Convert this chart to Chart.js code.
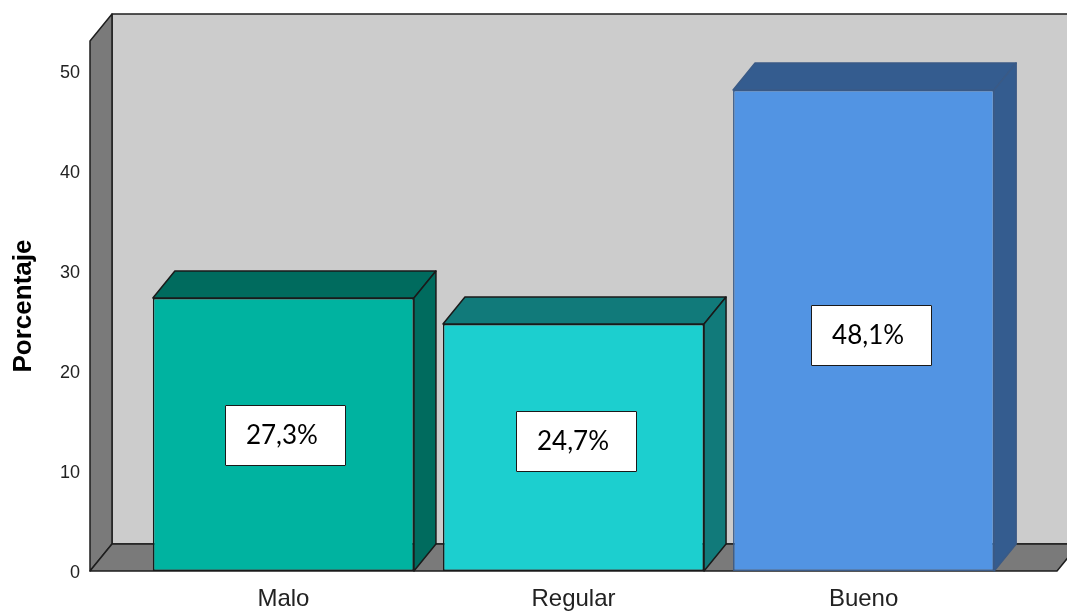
<!DOCTYPE html>
<html>
<head>
<meta charset="utf-8">
<script src="https://cdn.jsdelivr.net/npm/chart.js@4/dist/chart.umd.min.js"></script>
<style>
  html, body { margin: 0; padding: 0; background: #ffffff; }
  #wrap { width: 1067px; height: 612px; }
</style>
</head>
<body>
<div id="wrap"><canvas id="c" width="1067" height="612"></canvas></div>
<script>
// Categories and percentages
const categories = ['Malo', 'Regular', 'Bueno'];
const percentages = [27.3, 24.7, 48.1];
const yTicks = [0, 10, 20, 30, 40, 50];

// Bar styling: front face, shaded top/side faces, edge lines
const frontColors = ['#00b3a0', '#1ccfcf', '#5294e3'];
const shadeColors = ['#006b5e', '#117a7a', '#345c8f'];
const edgeColors  = ['#1a1a1a', '#1a1a1a', '#3a5a86'];
// Small pixel nudges for the value boxes [dx, dy]
const labelNudge = [[2, 1], [3, -6], [8, 5]];

// Depth of the 3D extrusion (px)
const DX = 22, DY = -27;

function fmtPct(v) {
  return v.toFixed(1).replace('.', ',') + '%';
}

const box3d = {
  id: 'box3d',
  beforeDatasetsDraw(chart) {
    const { ctx, chartArea: a, scales: { y } } = chart;
    const y0 = y.getPixelForValue(0);
    const yt = y.getPixelForValue(y.max);
    const lf = a.left;
    const rf = a.right;
    ctx.save();
    ctx.lineJoin = 'round';
    ctx.strokeStyle = '#1e1e1e';
    ctx.lineWidth = 1.5;
    // back wall
    ctx.fillStyle = '#cccccc';
    ctx.beginPath();
    ctx.rect(lf + DX, yt + DY, (rf - lf) + 10, y0 - yt);
    ctx.fill();
    ctx.stroke();
    // left side wall
    ctx.fillStyle = '#7a7a7a';
    ctx.beginPath();
    ctx.moveTo(lf, y0);
    ctx.lineTo(lf, yt);
    ctx.lineTo(lf + DX, yt + DY);
    ctx.lineTo(lf + DX, y0 + DY);
    ctx.closePath();
    ctx.fill();
    ctx.stroke();
    // floor
    ctx.beginPath();
    ctx.moveTo(lf, y0);
    ctx.lineTo(lf + DX, y0 + DY);
    ctx.lineTo(rf + DX, y0 + DY);
    ctx.lineTo(rf, y0);
    ctx.closePath();
    ctx.fill();
    ctx.stroke();
    ctx.restore();
  },
  afterDatasetsDraw(chart) {
    const { ctx } = chart;
    const meta = chart.getDatasetMeta(0);
    const ys = chart.scales.y;
    ctx.save();
    ctx.lineJoin = 'round';
    meta.data.forEach((bar, i) => {
      const { x, y, base, width } = bar.getProps(['x', 'y', 'base', 'width'], true);
      const l = x - width / 2, r = x + width / 2;
      ctx.fillStyle = shadeColors[i];
      ctx.strokeStyle = edgeColors[i];
      ctx.lineWidth = 1.5;
      // top face
      ctx.beginPath();
      ctx.moveTo(l, y);
      ctx.lineTo(l + DX, y + DY);
      ctx.lineTo(r + DX, y + DY);
      ctx.lineTo(r, y);
      ctx.closePath();
      ctx.fill();
      ctx.stroke();
      // right side face
      ctx.beginPath();
      ctx.moveTo(r, y);
      ctx.lineTo(r + DX, y + DY);
      ctx.lineTo(r + DX, base + DY);
      ctx.lineTo(r, base);
      ctx.closePath();
      ctx.fill();
      ctx.stroke();
    });
    // value boxes
    meta.data.forEach((bar, i) => {
      const v = percentages[i];
      const cx = bar.x + labelNudge[i][0];
      const cy = ys.getPixelForValue(v / 2) + labelNudge[i][1];
      const bw = 121, bh = 61;
      ctx.fillStyle = '#ffffff';
      ctx.strokeStyle = '#1a1a1a';
      ctx.lineWidth = 1;
      ctx.fillRect(Math.round(cx - bw / 2), Math.round(cy - bh / 2), bw, bh);
      ctx.strokeRect(Math.round(cx - bw / 2) + 0.5, Math.round(cy - bh / 2) + 0.5, bw - 1, bh - 1);
      ctx.fillStyle = '#000000';
      ctx.font = '26px Lato, "Open Sans", sans-serif';
      ctx.textAlign = 'center';
      ctx.textBaseline = 'middle';
      ctx.fillText(fmtPct(v), cx - 3.5, cy);
    });
    ctx.restore();
  }
};

new Chart(document.getElementById('c'), {
  type: 'bar',
  data: {
    datasets: [{
      data: categories.map((c, i) => ({ x: i, y: percentages[i] })),
      backgroundColor: frontColors,
      borderColor: edgeColors,
      borderWidth: 1.5,
      borderSkipped: false,
      barPercentage: 0.9,
      categoryPercentage: 1.0
    }]
  },
  options: {
    responsive: false,
    devicePixelRatio: 1,
    animation: false,
    events: [],
    layout: { padding: { top: 41, right: 10, left: 0, bottom: 0 } },
    plugins: {
      legend: { display: false },
      tooltip: { enabled: false },
      title: { display: false }
    },
    scales: {
      x: {
        type: 'linear',
        min: -2 / 3,
        max: 8 / 3,
        offset: false,
        bounds: 'data',
        grid: { display: false, drawTicks: false, offset: false },
        border: { display: false },
        afterBuildTicks(s) { s.ticks = categories.map((c, i) => ({ value: i })); },
        ticks: {
          color: '#222222',
          font: { family: '"Liberation Sans", Arial, sans-serif', size: 24 },
          padding: 14,
          callback: (v) => categories[v]
        },
        afterFit(s) { s.height = 41; }
      },
      y: {
        min: 0,
        max: 53,
        grid: { display: false, drawTicks: false },
        border: { display: false },
        afterBuildTicks(s) { s.ticks = yTicks.map(v => ({ value: v })); },
        ticks: {
          color: '#222222',
          font: { family: '"Liberation Sans", Arial, sans-serif', size: 18 },
          padding: 10,
          labelOffset: 2
        },
        title: {
          display: true,
          text: 'Porcentaje',
          color: '#000000',
          font: { family: '"Liberation Sans", Arial, sans-serif', size: 26, weight: 'bold' },
          padding: { top: 8, bottom: 0 }
        },
        afterFit(s) { s.width = 90; }
      }
    }
  },
  plugins: [box3d]
});
</script>
</body>
</html>
